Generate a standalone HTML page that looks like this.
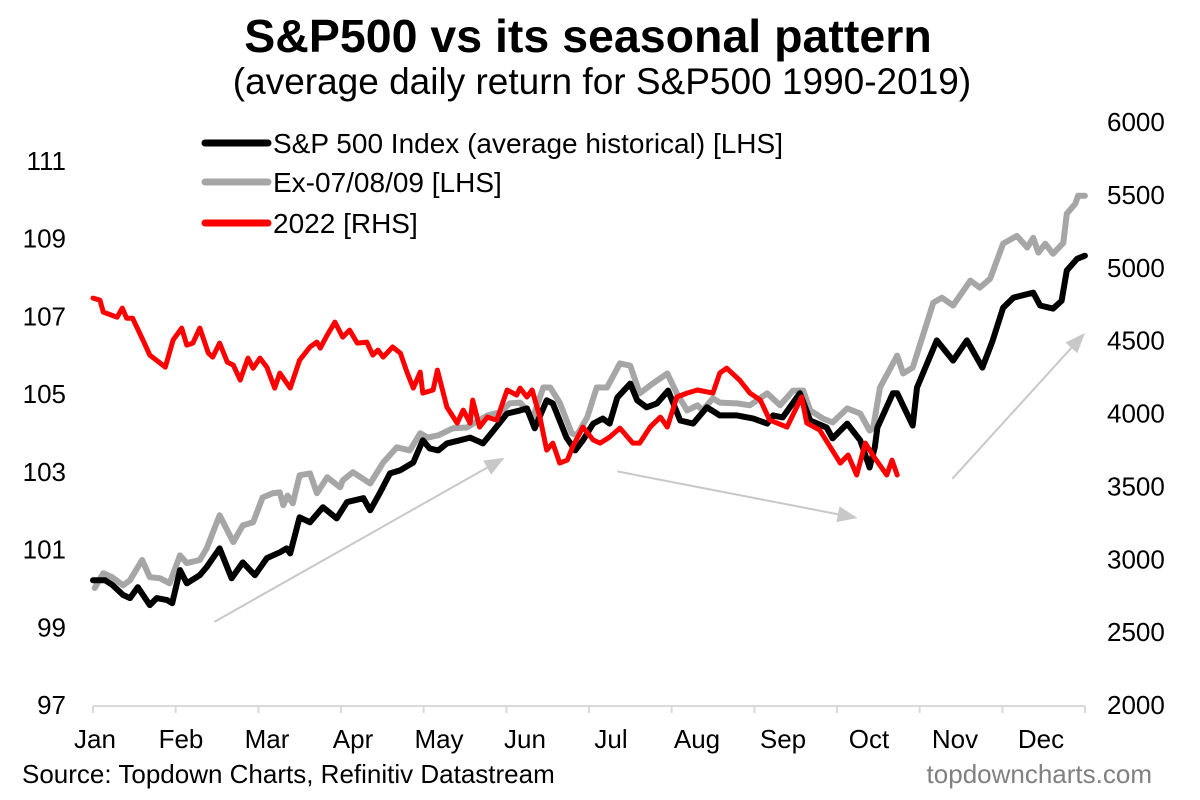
<!DOCTYPE html>
<html><head><meta charset="utf-8"><style>
body{margin:0;background:#fff;}
svg{display:block;font-family:"Liberation Sans",Arial,sans-serif;}
</style></head><body>
<svg id="chart" width="1200" height="800" viewBox="0 0 1200 800">
<text x="588" y="52" text-anchor="middle" font-size="46.5" font-weight="bold">S&amp;P500 vs its seasonal pattern</text>
<text x="602" y="94" text-anchor="middle" font-size="37">(average daily return for S&amp;P500 1990-2019)</text>
<g id="axes"></g>
<g id="arrows"></g>
<g id="series"></g>
<g>
<line x1="205" y1="143" x2="268" y2="143" stroke="#000" stroke-width="7" stroke-linecap="round"/>
<text x="273" y="153" font-size="28">S&amp;P 500 Index (average historical) [LHS]</text>
<line x1="205" y1="182" x2="268" y2="182" stroke="#a6a6a6" stroke-width="7" stroke-linecap="round"/>
<text x="273" y="192" font-size="28">Ex-07/08/09 [LHS]</text>
<line x1="205" y1="223" x2="268" y2="223" stroke="#ff0000" stroke-width="7" stroke-linecap="round"/>
<text x="273" y="233" font-size="28">2022 [RHS]</text>
</g>
<text x="22" y="783" font-size="26">Source: Topdown Charts, Refinitiv Datastream</text>
<text x="1152" y="783" text-anchor="end" font-size="26" fill="#808080">topdowncharts.com</text>
</svg>
<script>
const months=["Jan","Feb","Mar","Apr","May","Jun","Jul","Aug","Sep","Oct","Nov","Dec"];
const leftTicks=[97,99,101,103,105,107,109,111];
const rightTicks=[2000,2500,3000,3500,4000,4500,5000,5500,6000];
const spX=[0,0.14,0.23,0.35,0.43,0.52,0.66,0.74,0.86,0.92,1.01,1.09,1.24,1.32,1.47,1.61,1.74,1.88,2.02,2.17,2.25,2.29,2.40,2.52,2.67,2.83,2.95,3.14,3.22,3.33,3.45,3.57,3.72,3.83,3.91,4.01,4.11,4.26,4.38,4.53,4.65,4.81,4.96,5.04,5.13,5.27,5.34,5.50,5.60,5.69,5.81,5.92,6.00,6.09,6.24,6.32,6.43,6.55,6.68,6.82,6.97,7.13,7.28,7.48,7.67,7.83,7.90,8.01,8.21,8.33,8.52,8.59,8.76,8.91,9.02,9.08,9.11,9.29,9.34,9.52,9.57,9.80,9.99,10.15,10.33,10.45,10.57,10.69,10.92,11.00,11.15,11.25,11.31,11.43,11.52];
const spY=[100.21,100.21,100.08,99.83,99.75,100.03,99.57,99.75,99.70,99.62,100.47,100.13,100.34,100.55,101.03,100.26,100.67,100.34,100.78,100.93,101.03,100.90,101.83,101.70,102.09,101.80,102.22,102.32,102.01,102.45,102.96,103.04,103.24,103.81,103.60,103.55,103.73,103.81,103.88,103.73,104.06,104.50,104.58,104.63,104.12,104.84,104.76,103.88,103.55,103.81,104.24,104.37,104.24,104.91,105.27,104.84,104.66,104.76,105.09,104.32,104.24,104.66,104.45,104.45,104.37,104.24,104.45,104.40,105.02,104.32,104.14,103.86,104.24,103.81,103.11,103.63,104.14,105.02,105.02,104.19,105.17,106.38,105.86,106.38,105.68,106.38,107.22,107.48,107.61,107.28,107.20,107.40,108.18,108.48,108.56];
const exX=[0.02,0.12,0.22,0.35,0.43,0.57,0.66,0.78,0.89,1.01,1.09,1.24,1.32,1.47,1.63,1.74,1.86,1.97,2.09,2.17,2.21,2.26,2.32,2.40,2.52,2.60,2.72,2.87,2.90,3.02,3.22,3.37,3.53,3.68,3.80,3.89,4.01,4.18,4.34,4.58,4.73,4.84,4.96,5.11,5.23,5.31,5.42,5.56,5.62,5.74,5.85,5.97,6.12,6.24,6.35,6.50,6.67,6.78,6.90,7.02,7.08,7.20,7.28,7.48,7.63,7.83,7.98,8.13,8.25,8.33,8.48,8.59,8.76,8.91,9.02,9.06,9.14,9.34,9.41,9.52,9.76,9.86,9.99,10.19,10.30,10.42,10.57,10.73,10.85,10.92,10.98,11.06,11.15,11.27,11.31,11.41,11.44,11.52];
const exY=[100.01,100.39,100.29,100.08,100.21,100.73,100.29,100.26,100.13,100.85,100.65,100.73,101.03,101.88,101.19,101.62,101.70,102.34,102.45,102.47,102.14,102.39,102.19,102.91,102.96,102.45,102.86,102.60,102.78,102.99,102.70,103.24,103.63,103.55,103.99,103.88,103.94,104.12,104.14,104.45,104.53,104.76,104.78,104.40,105.17,105.17,104.78,103.99,103.94,104.40,105.17,105.17,105.79,105.73,105.02,105.27,105.53,105.02,104.58,104.71,104.58,104.89,104.78,104.76,104.71,105.02,104.71,105.09,105.09,104.58,104.37,104.27,104.63,104.50,104.06,104.12,105.17,105.99,105.53,105.68,107.35,107.48,107.28,107.92,107.74,107.97,108.87,109.07,108.77,109.02,108.64,108.87,108.61,108.89,109.64,109.90,110.10,110.10];
const y22X=[0,0.08,0.12,0.28,0.34,0.39,0.46,0.58,0.66,0.78,0.84,0.93,1.03,1.09,1.16,1.24,1.34,1.39,1.47,1.56,1.63,1.71,1.80,1.86,1.94,2.02,2.11,2.17,2.29,2.40,2.52,2.60,2.64,2.72,2.81,2.90,2.98,3.07,3.18,3.25,3.31,3.37,3.48,3.57,3.65,3.72,3.80,3.83,3.95,4.00,4.11,4.23,4.30,4.38,4.41,4.49,4.58,4.69,4.81,4.92,4.96,5.04,5.10,5.19,5.27,5.34,5.42,5.51,5.57,5.69,5.81,5.89,6.00,6.12,6.27,6.35,6.47,6.59,6.67,6.78,6.90,7.02,7.20,7.28,7.36,7.51,7.63,7.75,7.86,8.06,8.23,8.29,8.44,8.68,8.77,8.87,8.97,9.08,9.22,9.28,9.34];
const y22Y=[4792,4778,4696,4661,4723,4654,4654,4504,4401,4346,4318,4504,4586,4469,4483,4586,4414,4387,4483,4353,4332,4229,4380,4311,4380,4318,4174,4277,4174,4366,4456,4490,4449,4538,4627,4524,4572,4483,4490,4401,4435,4387,4456,4414,4277,4174,4284,4140,4161,4298,4044,3934,4023,3934,4092,3907,3975,3955,4161,4126,4174,4113,4161,3975,3749,3797,3660,3680,3770,3907,3818,3797,3838,3900,3797,3797,3907,3975,3907,4113,4140,4161,4140,4277,4311,4229,4140,4092,3955,3907,4113,3934,3886,3660,3715,3578,3797,3694,3578,3680,3578];
const arrowStart=[[1.41,99.14],[6.09,103.01],[9.98,102.82]];
const arrowEnd=[[4.78,103.36],[8.88,101.81],[11.52,106.57]];

const NS="http://www.w3.org/2000/svg";
const X0=93,MW=86.1,YB=705,YT=122,XR=1085;
const xs=m=>X0+m*MW;
const yl=v=>YB-(v-97)/(112-97)*(YB-YT);
const yr=v=>YB-(v-2000)/(6000-2000)*(YB-YT);
function mk(tag,attrs,parent){const e=document.createElementNS(NS,tag);for(const k in attrs)e.setAttribute(k,attrs[k]);parent.appendChild(e);return e;}
const axes=document.getElementById('axes');
const ax=mk('line',{x1:X0,y1:YB+1,x2:XR,y2:YB+1,stroke:'#d9d9d9','stroke-width':2},axes);


for(let i=0;i<=12;i++){const tx=X0+i*(XR-X0)/12;
const tk=mk('line',{x1:tx,y1:YB+1,x2:tx,y2:YB+8,stroke:'#d9d9d9','stroke-width':2},axes);

}
leftTicks.forEach(t=>{const e=mk('text',{x:66,y:yl(t)+9,'font-size':26,'text-anchor':'end'},axes);e.textContent=t;

});
rightTicks.forEach(t=>{const e=mk('text',{x:1107,y:yr(t)+9,'font-size':26},axes);e.textContent=t;

});
months.forEach((m,i)=>{const e=mk('text',{x:95+i*86,y:748,'font-size':26,'text-anchor':'middle'},axes);e.textContent=m;

});
const ar=document.getElementById('arrows');
arrowStart.forEach((s,i)=>{const e=arrowEnd[i];
const x1=xs(s[0]),y1=yl(s[1]),x2=xs(e[0]),y2=yl(e[1]);
const ang=Math.atan2(y2-y1,x2-x1),L=20,W=8;
const bx=x2-L*Math.cos(ang),by=y2-L*Math.sin(ang);
const ln=mk('line',{x1:x1,y1:y1,x2:bx,y2:by,stroke:'#c8c8c8','stroke-width':2},ar);


const px=-Math.sin(ang)*W,py=Math.cos(ang)*W;
const hd=mk('polygon',{points:`${x2},${y2} ${bx+px},${by+py} ${bx-px},${by-py}`,fill:'#c8c8c8'},ar);

});
const sg=document.getElementById('series');
function line(X,Y,yf,color,w,name){const d=X.map((x,i)=>(i?'L':'M')+xs(x).toFixed(1)+','+yf(Y[i]).toFixed(1)).join('');
const p=mk('path',{d:d,fill:'none',stroke:color,'stroke-width':w,'stroke-linejoin':'round','stroke-linecap':'round'},sg);

}
line(exX,exY,yl,'#a6a6a6',6,'ex-07-08-09-line');
line(spX,spY,yl,'#000000',6,'sp500-average-line');
line(y22X,y22Y,yr,'#ff0000',5,'line-2022');
</script>
</body></html>
